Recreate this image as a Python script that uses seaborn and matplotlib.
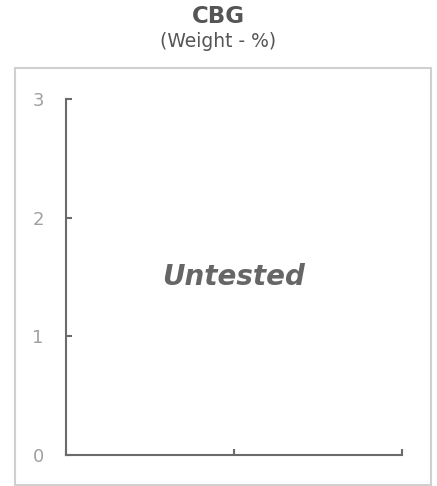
import matplotlib
matplotlib.use("Agg")
import matplotlib.pyplot as plt
import seaborn as sns
from matplotlib.patches import Rectangle

title = "CBG"
subtitle = "(Weight - %)"
status = "Untested"
y_ticks = [0, 1, 2, 3]
x_ticks = [0, 1, 2]
x_values = []
y_values = []

sns.set_style("ticks")
plt.rcParams['font.family'] = ['DejaVu Sans']

W, H = 437, 486
fig = plt.figure(figsize=(W / 100, H / 100), dpi=100)

# outer border
fig.patches.append(Rectangle((15 / W, 1 - 485 / H), (431 - 15) / W, (485 - 68) / H,
                             transform=fig.transFigure, fill=False,
                             edgecolor="#d0d0d0", linewidth=1.5))

ax = fig.add_axes([66 / W, 1 - 455 / H, (402 - 66) / W, (455 - 99) / H])
sns.lineplot(x=x_values, y=y_values, ax=ax)
ax.set_xlim(x_ticks[0], x_ticks[-1])
ax.set_ylim(y_ticks[0], y_ticks[-1])
ax.set_xticks(x_ticks)
ax.set_xticklabels([])
ax.set_yticks(y_ticks)
ax.set_yticklabels([str(t) for t in y_ticks])
sns.despine(ax=ax)
for s in ("left", "bottom"):
    ax.spines[s].set_color("#6b6b6b")
    ax.spines[s].set_linewidth(1.5)
ax.tick_params(axis="both", direction="in", length=4.5, width=1.5, color="#6b6b6b")
ax.tick_params(axis="y", pad=16, labelsize=13, labelcolor="#a0a0a0")
ax.set_xlabel("")
ax.set_ylabel("")

ax.text(0.5, 0.5, status, transform=ax.transAxes, ha="center", va="center",
        fontsize=20, fontweight="bold", fontstyle="italic", color="#666666")

fig.text(0.5, 1 - 23 / H, title, ha="center", va="baseline", fontsize=16.5,
         fontweight="bold", color="#555555")
fig.text(0.5, 1 - 47 / H, subtitle, ha="center", va="baseline", fontsize=13.5,
         color="#555555")

fig.savefig("out.png", dpi=100)
